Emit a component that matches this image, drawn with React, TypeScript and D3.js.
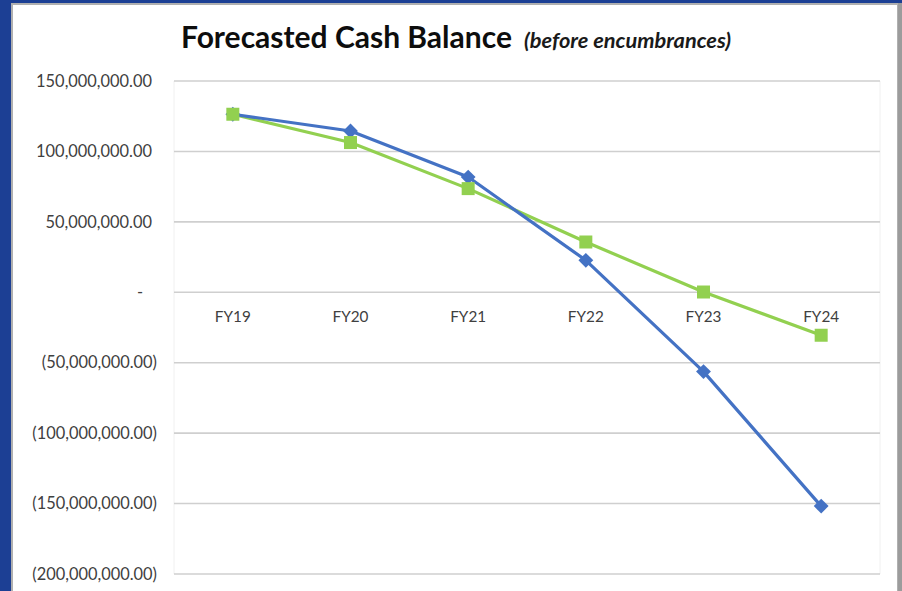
import React from "react";
import * as d3 from "d3";

const categories = ["FY19", "FY20", "FY21", "FY22", "FY23", "FY24"];
const seriesBlue = [126400000, 114500000, 81800000, 22700000, -56300000, -151800000];
const seriesGreen = [126400000, 106300000, 73600000, 35700000, 200000, -30500000];
const yTicks = [150000000, 100000000, 50000000, 0, -50000000, -100000000, -150000000, -200000000];

const W = 902;
const H = 591;
const plot = { left: 174, right: 880, top: 81, bottom: 574 };
const BLUE = "#4472C4";
const GREEN = "#92D050";
const FONT = "Lato, 'Open Sans', sans-serif";

function fmt(v: number): string {
  if (v === 0) return "-";
  const s = d3.format(",.2f")(Math.abs(v));
  return v < 0 ? `(${s})` : s;
}

export default function App() {
  const x = d3.scaleBand<string>().domain(categories).range([plot.left, plot.right]);
  const y = d3.scaleLinear().domain([-200000000, 150000000]).range([plot.bottom, plot.top]);
  const cx = (c: string) => (x(c) as number) + x.bandwidth() / 2;

  const line = d3
    .line<number>()
    .x((_, i) => cx(categories[i]))
    .y((d) => y(d));

  const diamond = d3.symbol().type(d3.symbolDiamond2).size(140)();

  return (
    <svg
      width={W}
      height={H}
      style={{ position: "absolute", left: 0, top: 0, display: "block" }}
      fontFamily={FONT}
    >
      {/* slide background */}
      <rect x={0} y={0} width={W} height={H} fill="#1c3f94" />
      <rect x={897} y={3} width={5} height={H} fill="#9c9c9c" />
      <rect x={11} y={3} width={887} height={H} fill="#b0b0b0" />
      <rect x={13} y={5} width={884} height={H} fill="#ffffff" />

      {/* title */}
      <text x={181} y={48} fontSize={30} fontWeight={700} fill="#0d0d0d">
        Forecasted Cash Balance
        <tspan dx={12} fontSize={21.8} fontStyle="italic" fontWeight={700} fill="#1a1a1a">
          (before encumbrances)
        </tspan>
      </text>

      {/* plot frame (very light) */}
      <line x1={plot.left} x2={plot.left} y1={plot.top} y2={plot.bottom} stroke="#f0f0f0" />
      <line x1={plot.right} x2={plot.right} y1={plot.top} y2={plot.bottom} stroke="#f0f0f0" />

      {/* gridlines */}
      {yTicks.map((t) => (
        <line
          key={t}
          x1={plot.left}
          x2={plot.right}
          y1={y(t)}
          y2={y(t)}
          stroke="#cfcfcf"
          strokeWidth={1.6}
        />
      ))}

      {/* y labels */}
      {yTicks.map((t) => (
        <text
          key={"l" + t}
          x={t < 0 ? 157 : t === 0 ? 143 : 152}
          y={y(t)}
          dy="0.35em"
          textAnchor="end"
          fontSize={16.4}
          fill="#404040"
        >
          {fmt(t)}
        </text>
      ))}

      {/* category labels */}
      {categories.map((c) => (
        <text key={c} x={cx(c)} y={y(0) + 30} textAnchor="middle" fontSize={15.3} fill="#404040">
          {c}
        </text>
      ))}

      {/* green series */}
      <path d={line(seriesGreen) || ""} fill="none" stroke={GREEN} strokeWidth={3.2} strokeLinejoin="round" />
      {/* blue series */}
      <path d={line(seriesBlue) || ""} fill="none" stroke={BLUE} strokeWidth={3.2} strokeLinejoin="round" />

      {seriesBlue.map((v, i) => (
        <path key={"b" + i} d={diamond || ""} transform={`translate(${cx(categories[i])},${y(v)})`} fill={BLUE} />
      ))}
      {seriesGreen.map((v, i) => (
        <rect
          key={"g" + i}
          x={cx(categories[i]) - 6.5}
          y={y(v) - 6.5}
          width={13}
          height={13}
          fill={GREEN}
        />
      ))}
    </svg>
  );
}
